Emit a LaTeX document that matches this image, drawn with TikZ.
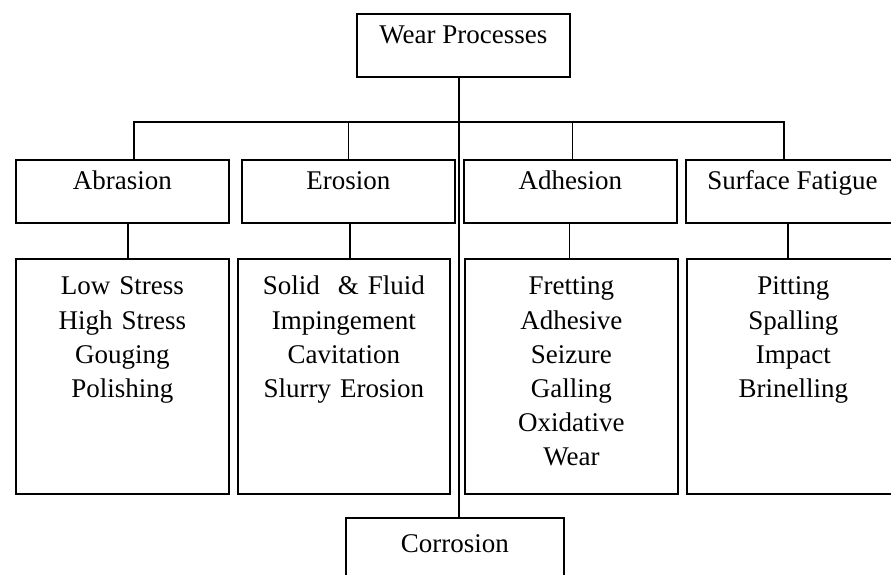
\documentclass[tikz,border=0pt]{standalone}
\usepackage{fontspec}
\setmainfont{Liberation Serif}
\begin{document}
\begin{tikzpicture}[x=1pt, y=-1pt,
		every node/.style={font=\fontsize{27pt}{34.2pt}\selectfont},
		box/.style={draw, line width=1.8pt, inner sep=0pt, anchor=north west, minimum width=213pt, text height=30pt, text depth=33pt},
		listbox/.style={draw, line width=1.8pt, inner sep=0pt, anchor=north west, text width=213pt, align=center, text height=36pt, text depth=199pt},
		link/.style={line width=1.6pt}]
			\useasboundingbox (0,0) rectangle (891,574);
			% top and bottom
			\node [box] (wear) at (356,13) {Wear Processes};
			\node [box, minimum width=218pt, text height=35pt, text depth=30pt] (corr) at (345,517) {Corrosion};
			\coordinate (hub) at (459,122);
			% categories
			\node [box] (abr) at (15,159) {Abrasion};
			\node [box] (ero) at (241,159) {Erosion};
			\node [box] (adh) at (463,159) {Adhesion};
			\node [box] (sfat) at (685,159) {Surface Fatigue};
			% lists
			\node [listbox] (abrl) at (15,258) {Low Stress\\High Stress\\Gouging\\Polishing};
			\node [listbox, text width=212pt] (erol) at (237,258) {Solid \ \& Fluid\\Impingement\\Cavitation\\Slurry Erosion};
			\node [listbox] (adhl) at (464,258) {Fretting\\Adhesive\\Seizure\\Galling\\Oxidative\\Wear};
			\node [listbox] (sfatl) at (686,258) {Pitting\\Spalling\\Impact\\Brinelling};
			% connectors
			\draw [link] (wear.south -| hub) -- (corr.north -| hub);
			\draw [link] ([xshift=11.5pt]abr.north) |- (hub) -| ([xshift=-8.5pt]sfat.north);
			\draw [link] (ero.north) -- (ero.north |- hub);
			\draw [link] ([xshift=2pt]adh.north) -- ([xshift=2pt]adh.north |- hub);
			\foreach \c/\l/\s in {abr/abrl/5.5, ero/erol/1.5, adh/adhl/-1, sfat/sfatl/-4.5}
				\draw [link] ([xshift=\s pt]\c.south) -- ([xshift=\s pt]\c.south |- \l.north);
	\end{tikzpicture}
\end{document}
